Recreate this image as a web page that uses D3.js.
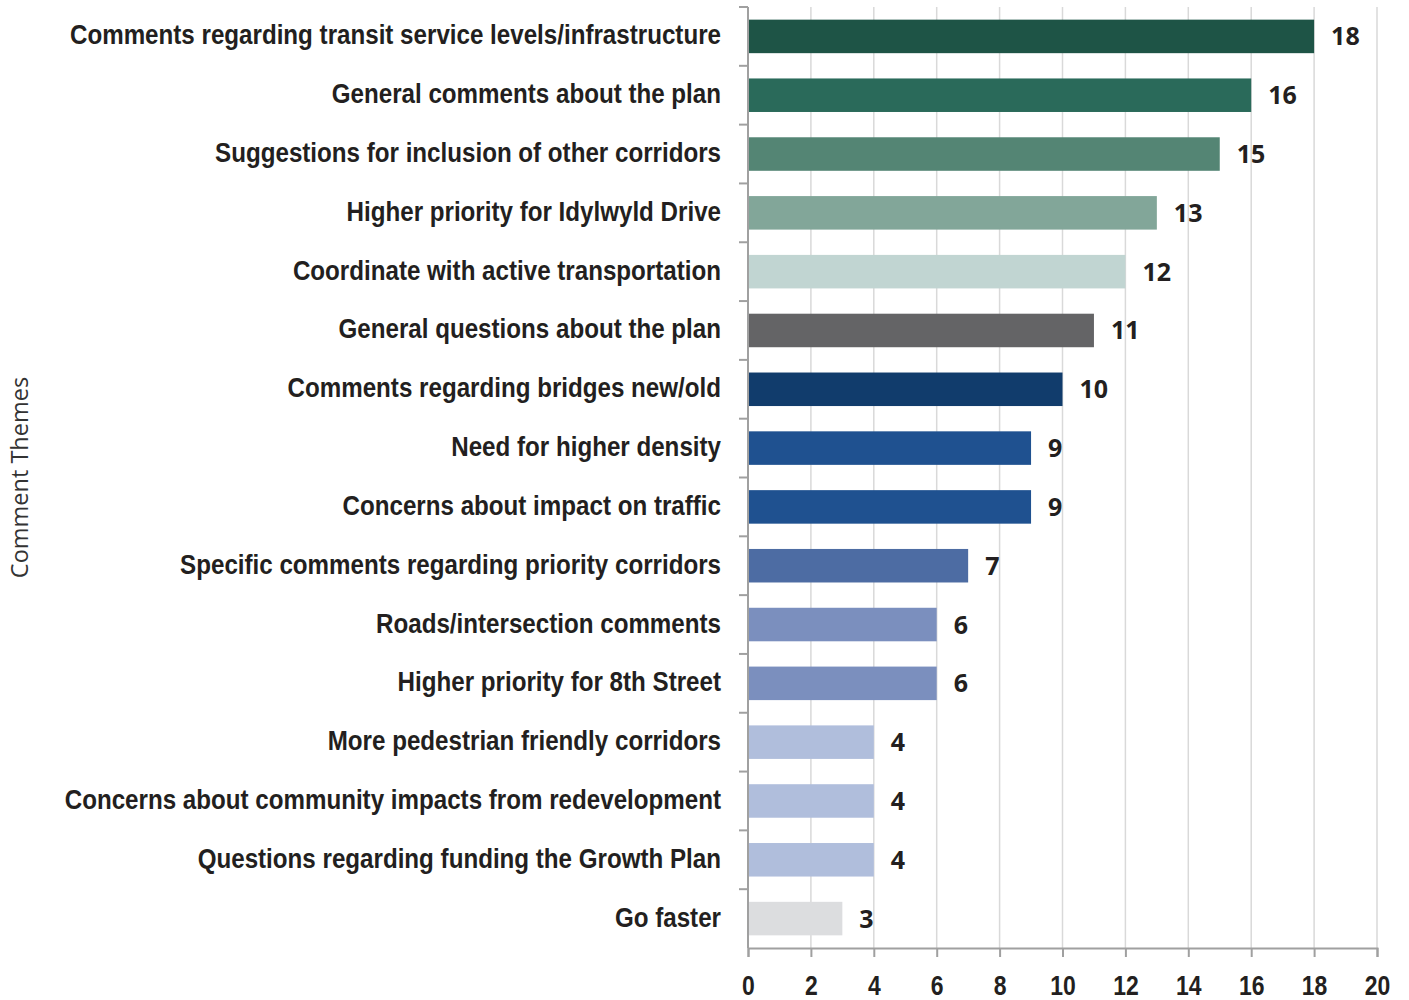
<!DOCTYPE html>
<html>
<head>
<meta charset="utf-8">
<script src="https://cdn.jsdelivr.net/npm/d3@7"></script>
<style>
  body { margin: 0; background: #fff; }
</style>
</head>
<body>
<div id="main"></div>
<script>
const categories = [
    "Comments regarding transit service levels/infrastructure",
    "General comments about the plan",
    "Suggestions for inclusion of other corridors",
    "Higher priority for Idylwyld Drive",
    "Coordinate with active transportation",
    "General questions about the plan",
    "Comments regarding bridges new/old",
    "Need for higher density",
    "Concerns about impact on traffic",
    "Specific comments regarding priority corridors",
    "Roads/intersection comments",
    "Higher priority for 8th Street",
    "More pedestrian friendly corridors",
    "Concerns about community impacts from redevelopment",
    "Questions regarding funding the Growth Plan",
    "Go faster"
];
const counts = [18, 16, 15, 13, 12, 11, 10, 9, 9, 7, 6, 6, 4, 4, 4, 3];
const barColors = [
    "#1e5446", "#2a6a5a", "#548574", "#82a699", "#c1d5d2", "#646466",
    "#113c6c", "#1f5190", "#1f5190", "#4d6ca3", "#7b8fbe", "#7b8fbe",
    "#b0bedc", "#b0bedc", "#b0bedc", "#dcdddf"
];
const xTicks = [0, 2, 4, 6, 8, 10, 12, 14, 16, 18, 20];
const axisTitle = "Comment Themes";

const ctx = {
    w: 1409,
    h: 1000,
    left: 748,
    right: 1377,
    top: 7,
    bottom: 948,
    CONDENSE: 0.863, // horizontal squeeze to mimic the condensed font
    AXIS_COLOR: "#a0a0a0",
    GRID_COLOR: "#d9d9d9",
    TEXT_COLOR: "#231f20",
};

const svg = d3.select("#main").append("svg")
    .attr("width", ctx.w)
    .attr("height", ctx.h);

const x = d3.scaleLinear().domain([0, 20]).range([ctx.left, ctx.right]);
const y = d3.scaleBand().domain(categories).range([ctx.top, ctx.bottom])
    .paddingInner(0.43).paddingOuter(0.215);

// vertical gridlines
svg.append("g").selectAll("line")
    .data(xTicks.filter(d => d > 0))
    .enter().append("line")
    .attr("x1", d => x(d)).attr("x2", d => x(d))
    .attr("y1", ctx.top).attr("y2", ctx.bottom)
    .attr("stroke", ctx.GRID_COLOR)
    .attr("stroke-width", 1.5);

// bars
svg.append("g").selectAll("rect")
    .data(categories)
    .enter().append("rect")
    .attr("x", x(0))
    .attr("y", d => y(d))
    .attr("width", (d, i) => x(counts[i]) - x(0))
    .attr("height", y.bandwidth())
    .attr("fill", (d, i) => barColors[i]);

// value labels
svg.append("g").selectAll("text")
    .data(categories)
    .enter().append("text")
    .attr("x", (d, i) => x(counts[i]) + 17)
    .attr("y", d => y(d) + y.bandwidth() / 2 + 9)
    .attr("font-family", "'Open Sans', 'Noto Sans', sans-serif")
    .attr("font-weight", "bold")
    .attr("font-size", 25)
    .attr("fill", ctx.TEXT_COLOR)
    .text((d, i) => counts[i]);

// y axis: line with ticks at band boundaries
const yAxisG = svg.append("g");
yAxisG.append("line")
    .attr("x1", ctx.left).attr("x2", ctx.left)
    .attr("y1", ctx.top).attr("y2", ctx.bottom)
    .attr("stroke", ctx.AXIS_COLOR).attr("stroke-width", 2);
const rowH = (ctx.bottom - ctx.top) / categories.length;
yAxisG.selectAll("line.tick")
    .data(d3.range(categories.length))
    .enter().append("line")
    .attr("class", "tick")
    .attr("x1", ctx.left - 9).attr("x2", ctx.left)
    .attr("y1", i => ctx.top + i * rowH)
    .attr("y2", i => ctx.top + i * rowH)
    .attr("stroke", ctx.AXIS_COLOR).attr("stroke-width", 2);
yAxisG.selectAll("text")
    .data(categories)
    .enter().append("text")
    .attr("transform", d => `translate(${ctx.left - 27},${y(d) + y.bandwidth() / 2 + 8}) scale(${ctx.CONDENSE},1)`)
    .attr("text-anchor", "end")
    .attr("font-family", "'Liberation Sans', Arial, sans-serif")
    .attr("font-weight", "bold")
    .attr("font-size", 28)
    .attr("fill", ctx.TEXT_COLOR)
    .text(d => d);

// x axis
const xAxis = d3.axisBottom(x).tickValues(xTicks).tickSize(9);
const xAxisG = svg.append("g")
    .attr("transform", `translate(0,${ctx.bottom})`)
    .call(xAxis);
xAxisG.select(".domain").attr("stroke", ctx.AXIS_COLOR).attr("stroke-width", 2);
xAxisG.selectAll(".tick line").attr("stroke", ctx.AXIS_COLOR).attr("stroke-width", 2);
xAxisG.selectAll(".tick text")
    .attr("y", 47)
    .attr("dy", 0)
    .attr("transform", "scale(0.82,1)")
    .attr("font-family", "'Liberation Sans', Arial, sans-serif")
    .attr("font-weight", "bold")
    .attr("font-size", 28)
    .attr("fill", ctx.TEXT_COLOR);

// axis title
svg.append("text")
    .attr("transform", `translate(28,${(ctx.top + ctx.bottom) / 2}) rotate(-90)`)
    .attr("text-anchor", "middle")
    .attr("font-family", "'Open Sans', 'Noto Sans', sans-serif")
    .attr("font-size", 23.5)
    .attr("fill", "#333")
    .text(axisTitle);
</script>
</body>
</html>
